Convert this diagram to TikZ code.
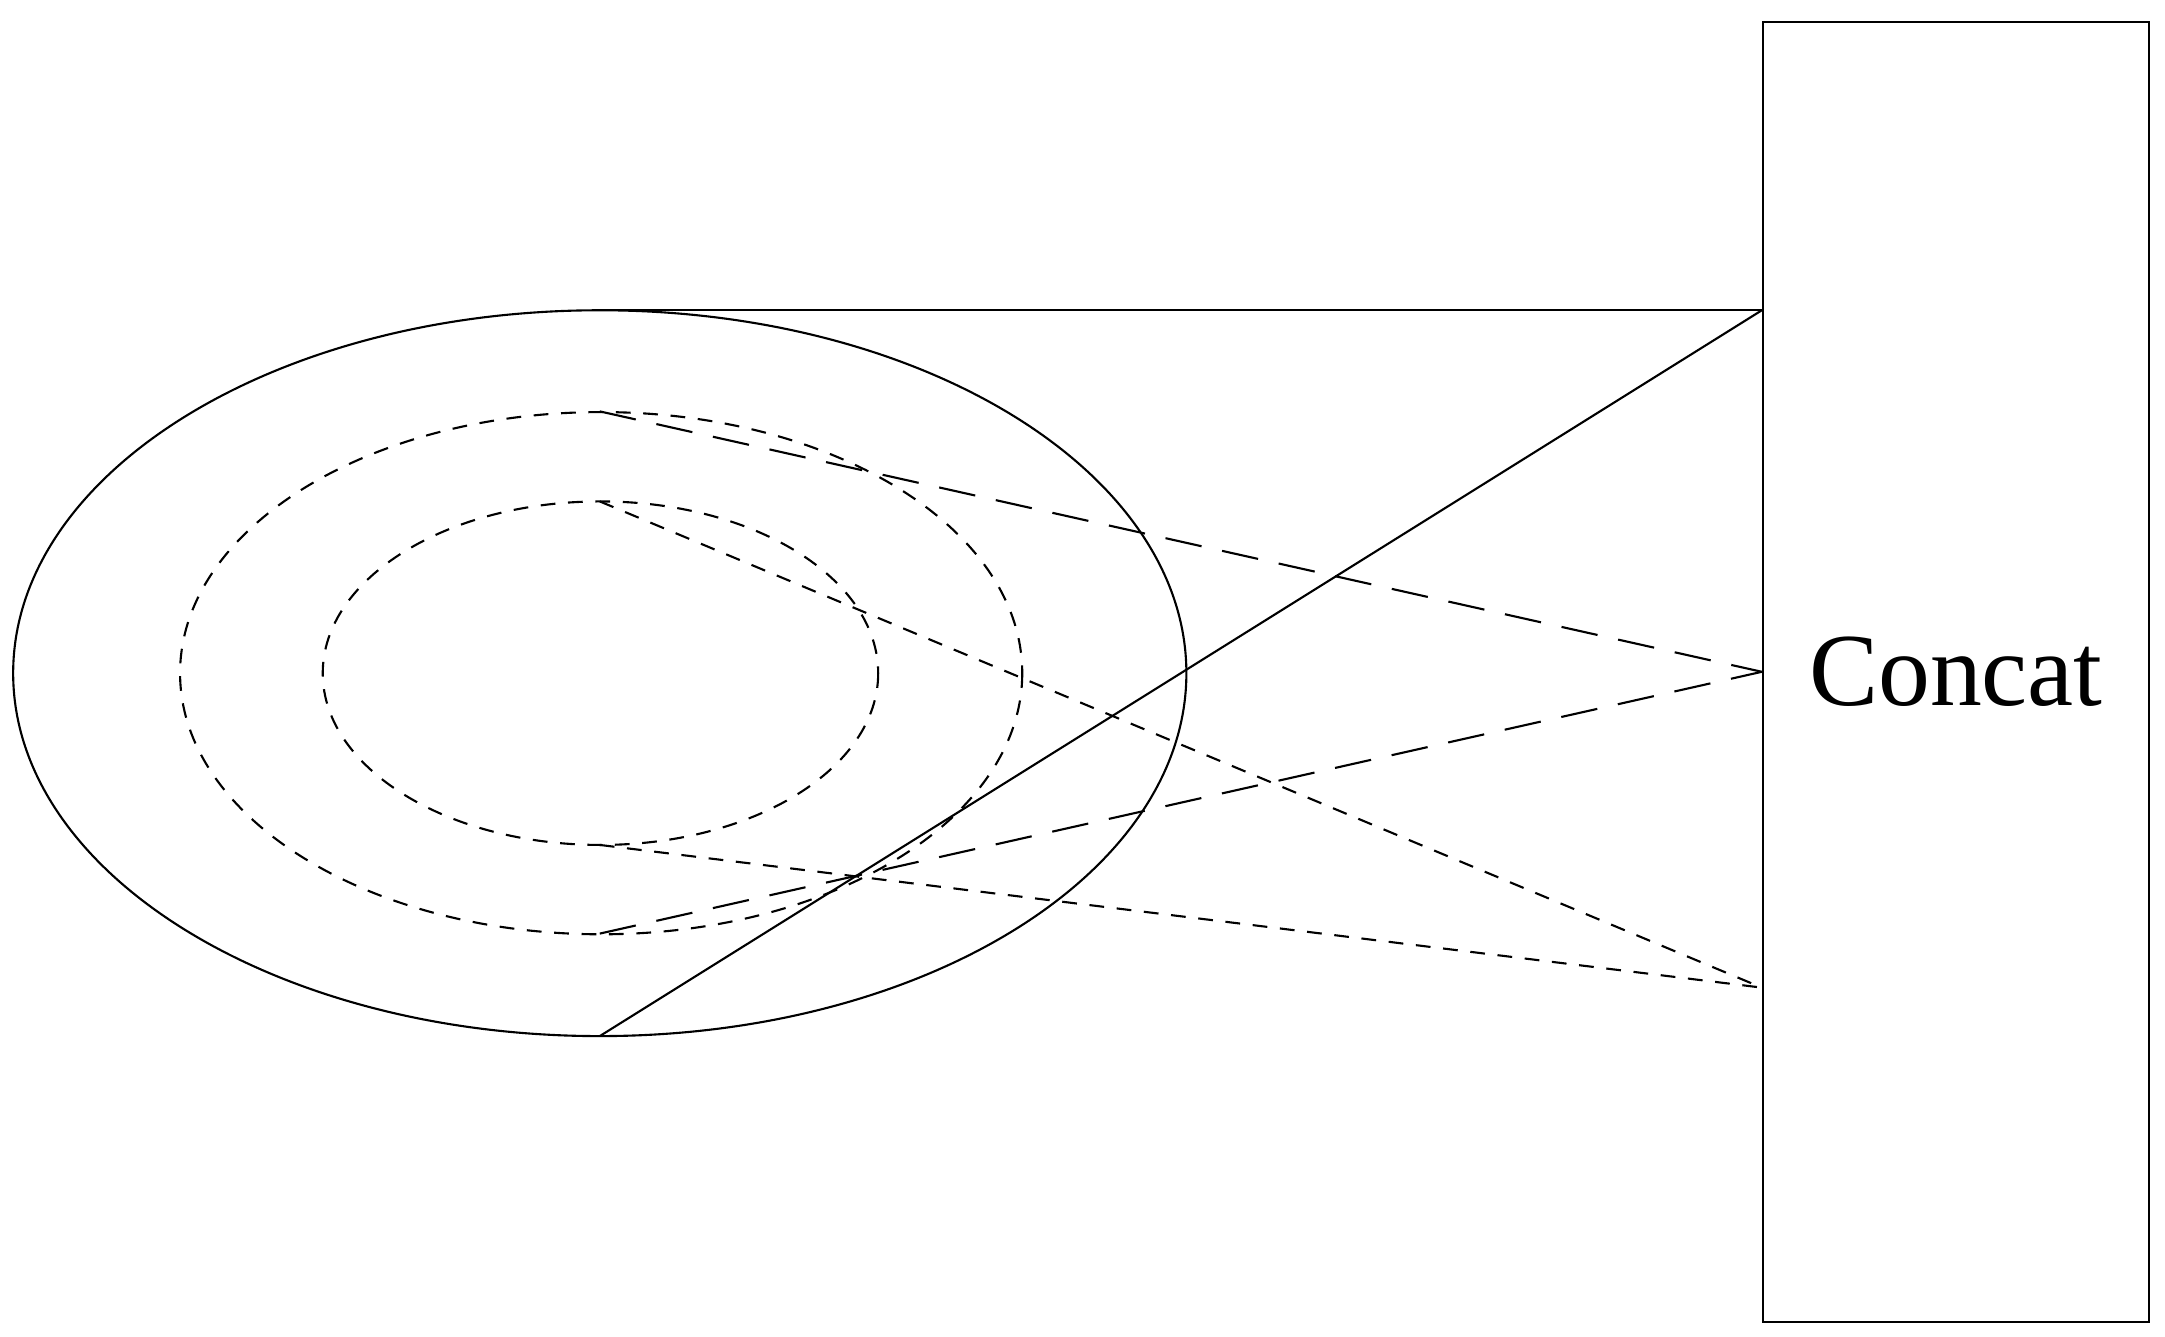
\documentclass[tikz,border=0pt]{standalone}
\usepackage{fontspec}
\setmainfont{Liberation Serif}
\begin{document}
\begin{tikzpicture}[x=0.013852cm,y=-0.013852cm,line width=0.6pt,
    longdash/.style={dash pattern=on 10.5pt off 6pt},
    shortdash/.style={dash pattern=on 4.2pt off 3.6pt}]
  \useasboundingbox (0,0) rectangle (1563,965);
  \node (concat) [draw, inner sep=0, minimum width=3.86cm, minimum height=13.00cm,
    font=\fontsize{29.5}{34}\selectfont] at (1412,485) {Concat};
  \coordinate (c1) at (concat.west |- 0,224);
  \coordinate (c3) at (concat.west |- 0,713);
  % rings
  \draw (433,486) ellipse [x radius=423.5, y radius=262];
  \draw[shortdash] (434,486) ellipse [x radius=304, y radius=188.5];
  \draw[shortdash] (433.5,486) ellipse [x radius=200.5, y radius=124];
  \coordinate (o1) at (433,224);
  \coordinate (o2) at (433,748);
  \coordinate (m1) at (433,297);
  \coordinate (m2) at (433,674);
  \coordinate (i1) at (433,362);
  \coordinate (i2) at (433,610);
  \begin{scope}[-]
    \draw (o1) to (c1);
    \draw (o2) to (c1);
    \draw[longdash] (m1) to (concat.west);
    \draw[longdash] (m2) to (concat.west);
    \draw[shortdash] (i1) to (c3);
    \draw[shortdash] (i2) to (c3);
  \end{scope}
\end{tikzpicture}
\end{document}
